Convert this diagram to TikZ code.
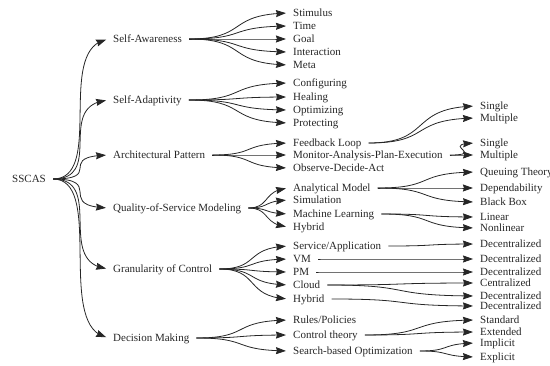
\documentclass[tikz,border=0pt]{standalone}
\usepackage{fontspec}
\setmainfont{Liberation Serif}
\usetikzlibrary{arrows.meta,bending,calc}
\tikzset{
  lbl/.style={anchor=west, inner sep=0pt, text height=8pt, text depth=1.5pt, font=\fontsize{11}{13}\selectfont, text=black!85},
  conn/.style={draw=black!85, line width=0.8pt, shorten <=7pt, shorten >=7pt, -{Stealth[length=10pt,width=7pt,inset=1pt]}}
}
\newcommand\link[3][0.62]{\draw[conn] (#2.east) .. controls ($(#2.east)!#1!(#2.east -| #3.west)$) and ($(#3.west)!#1!(#3.west -| #2.east)$) .. (#3.west);}
\begin{document}
\begin{tikzpicture}[x=1pt,y=-1pt]
\useasboundingbox (0,0) rectangle (550,366);
% root
\node[lbl] (r) at (12,179) {SSCAS};
% level 1
\node[lbl] (a1) at (113,39) {Self-Awareness};
\node[lbl] (a2) at (113,100) {Self-Adaptivity};
\node[lbl] (a3) at (113,155) {Architectural Pattern};
\node[lbl] (a4) at (113,208) {Quality-of-Service Modeling};
\node[lbl] (a5) at (113,269) {Granularity of Control};
\node[lbl] (a6) at (113,338) {Decision Making};
% level 2
\node[lbl] (sa1) at (293,13) {Stimulus};
\node[lbl] (sa2) at (293,26) {Time};
\node[lbl] (sa3) at (293,39) {Goal};
\node[lbl] (sa4) at (293,52) {Interaction};
\node[lbl] (sa5) at (293,65) {Meta};
\node[lbl] (ad1) at (293,83) {Configuring};
\node[lbl] (ad2) at (293,97) {Healing};
\node[lbl] (ad3) at (293,110) {Optimizing};
\node[lbl] (ad4) at (293,123) {Protecting};
\node[lbl] (ap1) at (293,143) {Feedback Loop};
\node[lbl] (ap2) at (293,155) {Monitor-Analysis-Plan-Execution};
\node[lbl] (ap3) at (293,168) {Observe-Decide-Act};
\node[lbl] (q1) at (293,188) {Analytical Model};
\node[lbl] (q2) at (293,200) {Simulation};
\node[lbl] (q3) at (293,214) {Machine Learning};
\node[lbl] (q4) at (293,227) {Hybrid};
\node[lbl] (g1) at (293,246) {Service/Application};
\node[lbl] (g2) at (293,259) {VM};
\node[lbl] (g3) at (293,272) {PM};
\node[lbl] (g4) at (293,285) {Cloud};
\node[lbl] (g5) at (293,299) {Hybrid};
\node[lbl] (d1) at (293,320) {Rules/Policies};
\node[lbl] (d2) at (293,335) {Control theory};
\node[lbl] (d3) at (293,351) {Search-based Optimization};
% level 3
\node[lbl] (ap1s) at (480,106) {Single};
\node[lbl] (ap1m) at (480,118) {Multiple};
\node[lbl] (ap2s) at (480,143) {Single};
\node[lbl] (ap2m) at (480,155) {Multiple};
\node[lbl] (q1a) at (480,172) {Queuing Theory};
\node[lbl] (q1b) at (480,188) {Dependability};
\node[lbl] (q1c) at (480,202) {Black Box};
\node[lbl] (q3a) at (480,217) {Linear};
\node[lbl] (q3b) at (480,228) {Nonlinear};
\node[lbl] (g1a) at (480,244) {Decentralized};
\node[lbl] (g2a) at (480,259) {Decentralized};
\node[lbl] (g3a) at (480,272) {Decentralized};
\node[lbl] (g4a) at (480,283) {Centralized};
\node[lbl] (g4b) at (480,296) {Decentralized};
\node[lbl] (g5a) at (480,306) {Decentralized};
\node[lbl] (d2a) at (480,320) {Standard};
\node[lbl] (d2b) at (480,332) {Extended};
\node[lbl] (d3a) at (480,343) {Implicit};
\node[lbl] (d3b) at (480,357) {Explicit};
% connectors
\foreach \c in {a1,a2,a3,a4,a5,a6} {\link[0.92]{r}{\c}}
\foreach \c in {sa1,sa2,sa3,sa4,sa5} {\link{a1}{\c}}
\foreach \c in {ad1,ad2,ad3,ad4} {\link{a2}{\c}}
\foreach \c in {ap1,ap2,ap3} {\link{a3}{\c}}
\foreach \c in {q1,q2,q3,q4} {\link{a4}{\c}}
\foreach \c in {g1,g2,g3,g4,g5} {\link{a5}{\c}}
\foreach \c in {d1,d2,d3} {\link{a6}{\c}}
\link{ap1}{ap1s}\link{ap1}{ap1m}
\link[1.25]{ap2}{ap2s}\link[1.25]{ap2}{ap2m}
\link{q1}{q1a}\link{q1}{q1b}\link{q1}{q1c}
\link{q3}{q3a}\link{q3}{q3b}
\link{g1}{g1a}\link{g2}{g2a}\link{g3}{g3a}
\link{g4}{g4a}\link{g4}{g4b}\link{g5}{g5a}
\link{d2}{d2a}\link{d2}{d2b}
\link{d3}{d3a}\link{d3}{d3b}
\end{tikzpicture}
\end{document}
